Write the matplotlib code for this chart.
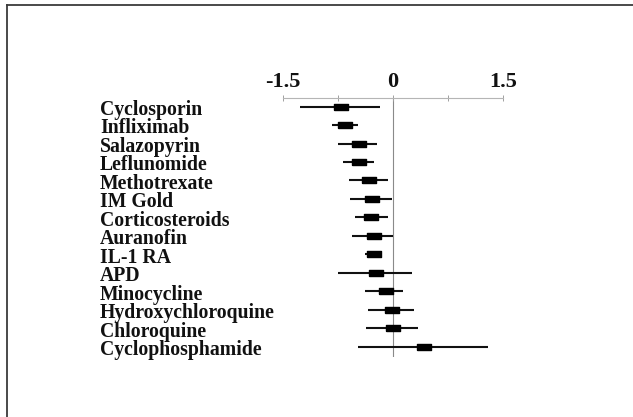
import matplotlib.pyplot as plt
import matplotlib.transforms as mtransforms
from matplotlib.lines import Line2D

plt.rcParams.update({"font.family": "Liberation Serif", "font.weight": "bold"})

drugs = ["Cyclosporin", "Infliximab", "Salazopyrin", "Leflunomide", "Methotrexate",
         "IM Gold", "Corticosteroids", "Auranofin", "IL-1 RA", "APD", "Minocycline",
         "Hydroxychloroquine", "Chloroquine", "Cyclophosphamide"]
effect = [-0.70, -0.65, -0.46, -0.46, -0.33, -0.28, -0.29, -0.26, -0.25, -0.23,
          -0.09, -0.01, 0.01, 0.42]
ci_low = [-1.26, -0.83, -0.75, -0.68, -0.60, -0.58, -0.51, -0.56, -0.38, -0.75,
          -0.38, -0.34, -0.36, -0.47]
ci_high = [-0.18, -0.47, -0.21, -0.26, -0.06, -0.01, -0.06, 0.01, -0.16, 0.26,
           0.14, 0.29, 0.35, 1.30]
tick_pos = [-1.5, 0, 1.5]
tick_txt = ["-1.5", "0", "1.5"]
minor_pos = [-0.75, 0.75]

fig = plt.figure(figsize=(6.33, 4.17), dpi=100)
ax = fig.add_axes([0.4466, 0.1439, 0.3476, 0.620])

rows = list(range(len(drugs)))
ax.axvline(0, color="#8a8a8a", lw=0.8, zorder=1)
ax.hlines(rows, ci_low, ci_high, color="#111111", lw=1.5, zorder=2)
box = [(-1, -0.5), (1, -0.5), (1, 0.5), (-1, 0.5), (-1, -0.5)]
ax.plot(effect, rows, ls="none", marker=box, ms=9.8, color="black", zorder=3)

ax.set_xlim(-1.5, 1.5)
ax.set_ylim(13.56, -0.44)
for s in ["bottom", "left", "right"]:
    ax.spines[s].set_visible(False)
ax.spines["top"].set_color("#b5b5b5")
ax.spines["top"].set_linewidth(0.8)
ax.xaxis.tick_top()
ax.set_xticks(tick_pos)
ax.set_xticklabels(tick_txt, fontsize=16, fontweight="bold", color="#111111")
ax.set_xticks(minor_pos, minor=True)
ax.tick_params(axis="x", which="both", direction="inout", length=4, width=0.7,
               color="#a0a0a0", pad=2.5)
ax.set_yticks([])

trans = mtransforms.blended_transform_factory(fig.transFigure, ax.transData)
trans = mtransforms.offset_copy(trans, fig=fig, y=-6, units="points")
for i, name in enumerate(drugs):
    ax.text(100 / 633, i, name, transform=trans, ha="left", va="baseline",
            fontsize=14.2, fontweight="bold", color="#111111")

# slide frame (left and top edges)
fig.add_artist(Line2D([6.5 / 633, 6.5 / 633], [0, 1 - 4.8 / 417], transform=fig.transFigure,
                      color="#3a3a3a", lw=1.3))
fig.add_artist(Line2D([6.5 / 633, 1], [1 - 4.8 / 417, 1 - 4.8 / 417], transform=fig.transFigure,
                      color="#3a3a3a", lw=1.3))

plt.savefig("out.png", dpi=100)
